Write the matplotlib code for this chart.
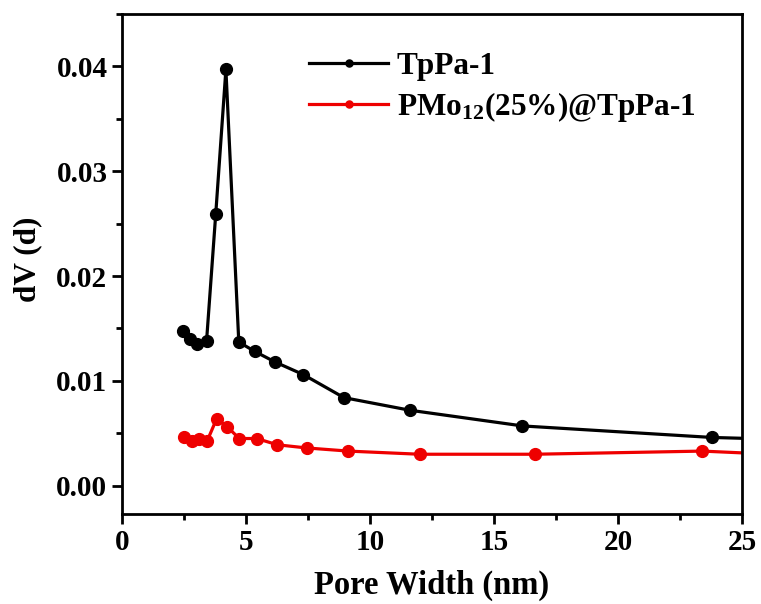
import matplotlib
matplotlib.use("Agg")
import matplotlib.pyplot as plt
from matplotlib.ticker import MultipleLocator

plt.rcParams['font.family'] = 'Liberation Serif'
plt.rcParams['font.weight'] = 'bold'
plt.rcParams['mathtext.fontset'] = 'custom'
plt.rcParams['mathtext.rm'] = 'Liberation Serif:bold'
plt.rcParams['mathtext.it'] = 'Liberation Serif:bold'
plt.rcParams['mathtext.bf'] = 'Liberation Serif:bold'
plt.rcParams['mathtext.default'] = 'regular'

# pore width (nm) and dV(d)
tppa_x = [2.47, 2.74, 3.04, 3.41, 3.78, 4.19, 4.71, 5.36, 6.17, 7.31, 8.95, 11.6, 16.15, 23.8, 30.0]
tppa_y = [0.0148, 0.0140, 0.0135, 0.0138, 0.0259, 0.0397, 0.0137, 0.0128, 0.0118, 0.0106,
          0.0084, 0.0072, 0.0057, 0.0046, 0.0042]

pmo_x = [2.5, 2.81, 3.11, 3.44, 3.82, 4.25, 4.73, 5.43, 6.27, 7.45, 9.13, 12.0, 16.65, 23.4, 30.0]
pmo_y = [0.0046, 0.0043, 0.0045, 0.0043, 0.0064, 0.0056, 0.0045, 0.0045, 0.0039, 0.0036,
         0.0033, 0.0030, 0.0030, 0.0033, 0.0026]

fig = plt.figure(figsize=(7.61, 6.04), dpi=100)
ax = fig.add_axes([0.1603, 0.149, 0.8147, 0.828])

ax.plot(tppa_x, tppa_y, color='black', lw=2.3, marker='o', ms=8.5, label='TpPa-1')
ax.plot(pmo_x, pmo_y, color='#ee0000', lw=2.3, marker='o', ms=8.5, label='PMo$_{12}$(25%)@TpPa-1')

ax.set_xlim(0, 25)
ax.set_ylim(-0.0027, 0.045)
ax.xaxis.set_major_locator(MultipleLocator(5))
ax.xaxis.set_minor_locator(MultipleLocator(2.5))
ax.yaxis.set_major_locator(MultipleLocator(0.01))
ax.yaxis.set_minor_locator(MultipleLocator(0.005))
ax.yaxis.set_major_formatter(matplotlib.ticker.FormatStrFormatter('%.2f'))

for s in ax.spines.values():
    s.set_linewidth(2)
ax.tick_params(which='both', direction='out', width=2, labelsize=21, top=False, right=False)
ax.tick_params(which='major', length=7)
ax.tick_params(which='minor', length=4)

ax.set_xlabel('Pore Width (nm)', fontsize=23.5, fontweight='bold', labelpad=10)
ax.set_ylabel('dV (d)', fontsize=22.5, fontweight='bold')
ax.yaxis.set_label_coords(-0.129, 0.51)

ax.legend(loc='upper left', bbox_to_anchor=(0.257, 0.98), frameon=False, fontsize=22.5,
          markerscale=0.6, handlelength=2.5, handletextpad=0.3, labelspacing=0.3)

fig.savefig('out.png', dpi=100)
